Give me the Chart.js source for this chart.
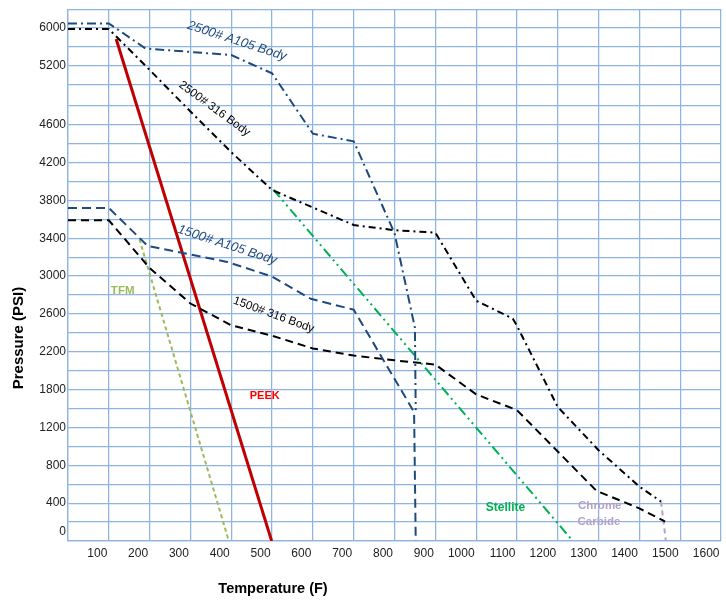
<!DOCTYPE html>
<html>
<head>
<meta charset="utf-8">
<title>Pressure / Temperature</title>
<script src="https://cdn.jsdelivr.net/npm/chart.js@4/dist/chart.umd.min.js"></script>
<style>
html, body { margin: 0; padding: 0; background: #fff; }
#wrap { width: 726px; height: 602px; }
</style>
</head>
<body>
<div id="wrap"><canvas id="chart" width="726" height="602"></canvas></div>
<script>
// Data: temperature (F) / pressure (PSI)
var a105_2500_t = [0, 100, 190, 400, 500, 600, 700, 800, 850, 852];
var a105_2500_p = [6100, 6100, 5570, 5430, 5125, 4505, 4425, 3455, 2455, 1475];

var ss316_2500_t = [0, 100, 200, 300, 400, 485, 500, 700, 800, 900, 1000, 1090, 1100, 1200, 1300, 1400, 1453];
var ss316_2500_p = [5980, 5980, 5160, 4735, 4310, 3970, 3910, 3540, 3485, 3460, 2740, 2550, 2475, 1525, 960, 575, 417];

var a105_1500_t = [0, 100, 195, 390, 500, 595, 700, 848, 852];
var a105_1500_p = [3720, 3720, 3320, 3150, 2995, 2760, 2645, 1445, 0];

var ss316_1500_t = [0, 100, 200, 300, 400, 500, 600, 700, 800, 900, 1000, 1100, 1295, 1400, 1463];
var ss316_1500_p = [3590, 3590, 3085, 2710, 2480, 2370, 2235, 2160, 2110, 2065, 1725, 1475, 530, 345, 205];

var peek_t = [118, 499];
var peek_p = [5770, 0];

var tfm_t = [175, 394];
var tfm_p = [3390, 0];

var stellite_t = [503, 1237];
var stellite_p = [3915, 0];

var chrome_t = [1453, 1465];
var chrome_p = [417, 0];

// tick labels
var xTickValues = [100, 200, 300, 400, 500, 600, 700, 800, 900, 1000, 1100, 1200, 1300, 1400, 1500, 1600];
var yTickLabels = ['400', '800', '1200', '1800', '2200', '2600', '3000', '3400', '3800', '4200', '4600', '5200', '6000'];

var GRID = '#8DB4E2';
var FONT = "'Liberation Sans', Arial, sans-serif";

// The pressure axis of the source is not linear (1200 -> 1800 and 4600 -> 6000 are squeezed),
// so map PSI onto px-above-axis piecewise.
var AXIS_PSI = [0, 400, 800, 1200, 1800, 4600, 5200, 6000, 6400];
var AXIS_POS = [0, 38, 76, 114, 152, 418, 477, 515, 534];

function interp(v, from, to) {
    var i = 1;
    while (i < from.length - 1 && v > from[i]) i++;
    var f = (v - from[i - 1]) / (from[i] - from[i - 1]);
    return to[i - 1] + f * (to[i] - to[i - 1]);
}

class PressureScale extends Chart.LinearScale {
    getPixelForValue(v) {
        if (v === null || v === undefined) return NaN;
        return super.getPixelForValue(interp(v, AXIS_PSI, AXIS_POS));
    }
    getValueForPixel(px) {
        return interp(super.getValueForPixel(px), AXIS_POS, AXIS_PSI);
    }
}
PressureScale.id = 'pressure';
PressureScale.defaults = Chart.LinearScale.defaults;
Chart.register(PressureScale);

function pts(ts, ps) {
    return ts.map(function (t, i) { return { x: t, y: ps[i] }; });
}

function yTicks(scale) {
    var ticks = [];
    for (var p = 0; p <= 437; p += 19) ticks.push({ value: interp(p, AXIS_POS, AXIS_PSI) });
    [458, 477, 496, 515, 534].forEach(function (p) { ticks.push({ value: interp(p, AXIS_POS, AXIS_PSI) }); });
    ticks.forEach(function (t) {
        yTickLabels.forEach(function (lb) {
            if (Math.abs(t.value - Number(lb)) < 1) t.text = lb;
        });
    });
    // "0" sits half a row above the axis in the source
    ticks.push({ value: interp(9.3, AXIS_POS, AXIS_PSI), text: '0', noGrid: true });
    ticks.sort(function (a, b) { return a.value - b.value; });
    scale.ticks = ticks;
}

var notes = [
    { text: '2500# A105 Body', t: 414, p: 5728, angle: 18, color: '#1F497D', font: 'italic 13px ' + FONT },
    { text: '2500# 316 Body', t: 359, p: 4763, angle: 36, color: '#000', font: '11.7px ' + FONT },
    { text: '1500# A105 Body', t: 390, p: 3327, angle: 18, color: '#1F497D', font: 'italic 13px ' + FONT },
    { text: '1500# 316 Body', t: 504, p: 2591, angle: 20, color: '#000', font: '11.7px ' + FONT },
    { text: 'TFM', t: 134, p: 2845, angle: 0, color: '#9BBB59', font: 'bold 11.5px ' + FONT },
    { text: 'PEEK', t: 482, p: 1694, angle: 0, color: '#FF0000', font: 'bold 11px ' + FONT },
    { text: 'Stellite', t: 1072, p: 356, angle: 0, color: '#00B050', font: 'bold 12px ' + FONT },
    { text: 'Chrome', t: 1303, p: 372, angle: 0, color: '#B3A2C7', font: 'bold 11.5px ' + FONT },
    { text: 'Carbide', t: 1301, p: 198, angle: 0, color: '#B3A2C7', font: 'bold 11.5px ' + FONT }
];

var textPlugin = {
    id: 'textPlugin',
    afterDatasetsDraw: function (chart) {
        var ctx = chart.ctx, x = chart.scales.x, y = chart.scales.y;
        ctx.save();
        ctx.textAlign = 'center';
        ctx.textBaseline = 'middle';
        notes.forEach(function (n) {
            ctx.save();
            ctx.translate(x.getPixelForValue(n.t), y.getPixelForValue(n.p));
            ctx.rotate(n.angle * Math.PI / 180);
            ctx.font = n.font;
            ctx.fillStyle = n.color;
            ctx.fillText(n.text, 0, 0);
            ctx.restore();
        });
        // axis titles
        ctx.fillStyle = '#000';
        ctx.font = 'bold 15px ' + FONT;
        ctx.save();
        ctx.translate(19, 338);
        ctx.rotate(-Math.PI / 2);
        ctx.fillText('Pressure (PSI)', 0, 0);
        ctx.restore();
        ctx.font = 'bold 14.5px ' + FONT;
        ctx.fillText('Temperature (F)', 273, 589);
        ctx.restore();
    }
};

function line(data, color, dash, width) {
    return {
        data: data,
        borderColor: color,
        borderWidth: width || 2,
        borderDash: dash,
        pointRadius: 0,
        fill: false,
        tension: 0
    };
}

new Chart(document.getElementById('chart'), {
    type: 'line',
    data: {
        datasets: [
            line(pts(a105_2500_t, a105_2500_p), '#1F497D', [9, 4, 2, 4]),
            line(pts(ss316_2500_t, ss316_2500_p), '#000000', [7, 4, 2, 4]),
            line(pts(a105_1500_t, a105_1500_p), '#1F497D', [9, 5]),
            line(pts(ss316_1500_t, ss316_1500_p), '#000000', [8, 5]),
            line(pts(tfm_t, tfm_p), '#9BBB59', [4, 3]),
            line(pts(stellite_t, stellite_p), '#00B050', [10, 4, 2, 4, 2, 4]),
            line(pts(chrome_t, chrome_p), '#B3A2C7', [5, 4]),
            line(pts(peek_t, peek_p), '#C00000', [], 3)
        ]
    },
    options: {
        responsive: false,
        devicePixelRatio: 1,
        animation: false,
        layout: { padding: { left: 0, right: 1, top: 5, bottom: 0 } },
        plugins: { legend: { display: false }, tooltip: { enabled: false } },
        scales: {
            x: {
                type: 'linear',
                min: 0,
                max: 1600,
                afterFit: function (s) { s.height = 61; },
                afterBuildTicks: function (s) {
                    s.ticks = [{ value: 0 }].concat(xTickValues.map(function (v) { return { value: v }; }));
                },
                grid: { color: GRID, lineWidth: 1.25, drawTicks: false },
                border: { color: GRID, width: 1.25 },
                ticks: {
                    autoSkip: false,
                    maxRotation: 0,
                    align: 'end',
                    labelOffset: -1.5,
                    padding: 5,
                    color: '#222',
                    font: { family: FONT, size: 12 },
                    callback: function (v) { return v === 0 ? '' : String(v); }
                }
            },
            y: {
                type: 'pressure',
                min: 0,
                max: 534,
                afterFit: function (s) { s.width = 68; },
                afterBuildTicks: yTicks,
                grid: {
                    color: function (c) { return c.tick && c.tick.noGrid ? 'rgba(0,0,0,0)' : GRID; },
                    lineWidth: 1.25,
                    drawTicks: false
                },
                border: { color: GRID, width: 1.25 },
                ticks: {
                    autoSkip: false,
                    padding: 2,
                    color: '#222',
                    font: { family: FONT, size: 12 },
                    callback: function (v, i, ticks) { return ticks[i].text || ''; }
                }
            }
        }
    },
    plugins: [textPlugin]
});
</script>
</body>
</html>
